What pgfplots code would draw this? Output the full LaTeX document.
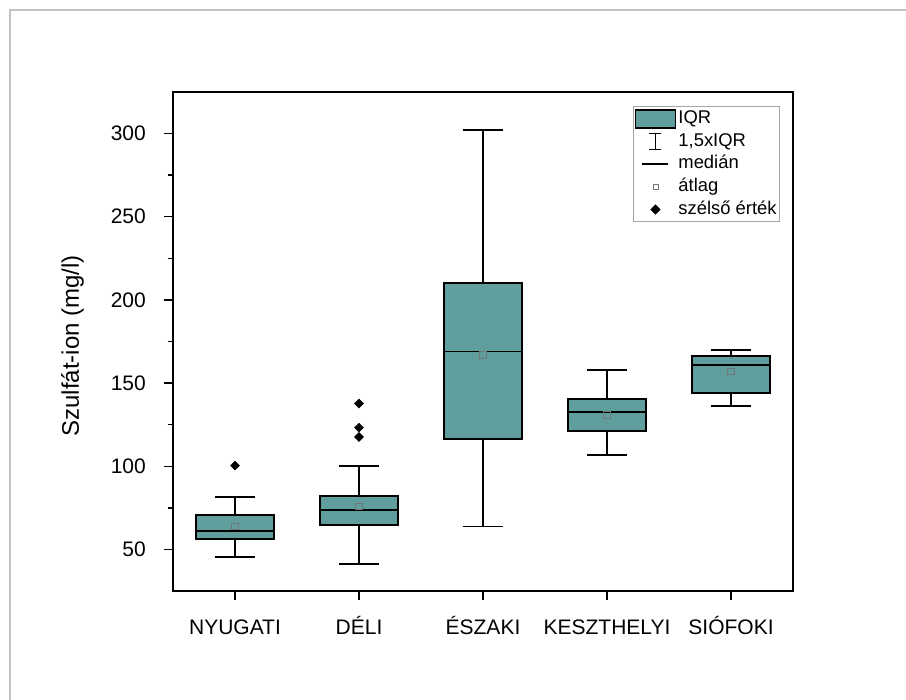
\documentclass[border=0pt]{standalone}
\usepackage{fontspec}
\setmainfont{Liberation Sans}
\usepackage{pgfplots}
\pgfplotsset{compat=1.18}
\usepgfplotslibrary{statistics}
\definecolor{boxc}{RGB}{96,157,157}
\definecolor{frameg}{RGB}{195,195,195}
\definecolor{meanc}{RGB}{110,120,120}
\begin{document}
\begin{tikzpicture}
\useasboundingbox (0pt,0pt) rectangle (906pt,700pt);
\fill[white] (0pt,0pt) rectangle (906pt,700pt);
\draw[frameg, line width=1.5pt] (10pt,0pt) -- (10pt,690pt) -- (906pt,690pt);
\begin{axis}[
  at={(173pt,109pt)}, anchor=south west,
  scale only axis, width=620pt, height=499pt,
  xmin=-0.5, xmax=4.5, ymin=25, ymax=325,
  xtick={0,1,2,3,4},
  xticklabels={NYUGATI,DÉLI,ÉSZAKI,KESZTHELYI,SIÓFOKI},
  ytick={50,100,150,200,250,300},
  minor y tick num=1,
  tick align=outside,
  xtick pos=bottom, ytick pos=left,
  major tick length=9pt, minor tick length=5pt,
  every tick/.style={black, line width=1.4pt},
  axis line style={line width=1.8pt},
  /pgf/number format/assume math mode=true,
  tick label style={font=\fontsize{21}{24}\selectfont},
  xticklabel style={text height=16pt, text depth=0pt, inner sep=0pt, anchor=north, yshift=-18pt},
  yticklabel style={inner sep=0pt, anchor=east, xshift=-18pt},
  ylabel={Szulfát-ion (mg/l)},
  every axis y label/.style={at={(axis description cs:-0.162,0.491)}, rotate=90, anchor=center, font=\fontsize{24}{28}\selectfont},
  boxplot/draw direction=y,
  boxplot/box extend=0.635,
  boxplot/whisker extend=0.33,
  boxplot/every median/.style={line width=1.9pt},
  boxplot/every box/.style={line width=1.9pt},
  boxplot/every whisker/.style={line width=1.6pt},
  legend style={at={(1,1)}, anchor=north east, xshift=-13pt, yshift=-14pt,
    draw=gray!70, line width=0.8pt, inner sep=1pt,
    font=\fontsize{18.4}{20}\selectfont,
    nodes={inner sep=2pt, text height=14pt, text depth=4.7pt},
    /tikz/every even column/.append style={column sep=2pt}},
  legend cell align=left,
]
\addlegendimage{legend image code/.code={\draw[fill=boxc,draw=black,line width=1.9pt] (0pt,-9pt) rectangle (40pt,9pt);}}
\addlegendentry{IQR}
\addlegendimage{legend image code/.code={\draw[black,line width=1.5pt] (20pt,-8pt)--(20pt,8pt) (14pt,8pt)--(26pt,8pt) (14pt,-8pt)--(26pt,-8pt);}}
\addlegendentry{1,5xIQR}
\addlegendimage{legend image code/.code={\draw[black,line width=1.6pt] (7pt,0pt)--(33pt,0pt);}}
\addlegendentry{medián}
\addlegendimage{legend image code/.code={\draw[meanc,line width=0.6pt] (17.5pt,-2.5pt) rectangle (22.5pt,2.5pt);}}
\addlegendentry{átlag}
\addlegendimage{legend image code/.code={\fill[black] (20pt,-4.5pt)--(24.5pt,0pt)--(20pt,4.5pt)--(15.5pt,0pt)--cycle;}}
\addlegendentry{szélső érték}

\addplot[black, fill=boxc, line width=1.6pt, boxplot prepared={draw position=0,
  lower whisker=45.5, lower quartile=56.2, median=61.3, upper quartile=70.7, upper whisker=81.4}] coordinates {};
\addplot[black, fill=boxc, line width=1.6pt, boxplot prepared={draw position=1,
  lower whisker=41.2, lower quartile=64.5, median=73.6, upper quartile=82.2, upper whisker=100}] coordinates {};
\addplot[black, fill=boxc, line width=1.6pt, boxplot prepared={draw position=2,
  lower whisker=63.7, lower quartile=116.5, median=169, upper quartile=210.3, upper whisker=302.1}] coordinates {};
\addplot[black, fill=boxc, line width=1.6pt, boxplot prepared={draw position=3,
  lower whisker=106.6, lower quartile=121, median=132.8, upper quartile=140.3, upper whisker=157.8}] coordinates {};
\addplot[black, fill=boxc, line width=1.6pt, boxplot prepared={draw position=4,
  lower whisker=136.1, lower quartile=144.1, median=161, upper quartile=166.3, upper whisker=169.8}] coordinates {};

% means
\addplot[only marks, mark=square, mark size=3.2pt, mark options={draw=meanc, line width=0.7pt}]
  coordinates {(0,64) (1,75.8) (2,166.9) (3,130.9) (4,157)};
% outliers
\addplot[only marks, mark=square*, mark size=3.2pt, mark options={fill=black, draw=black, rotate=45}]
  coordinates {(0,100.4) (1,137.7) (1,123.2) (1,117.6)};
\end{axis}
\end{tikzpicture}
\end{document}
